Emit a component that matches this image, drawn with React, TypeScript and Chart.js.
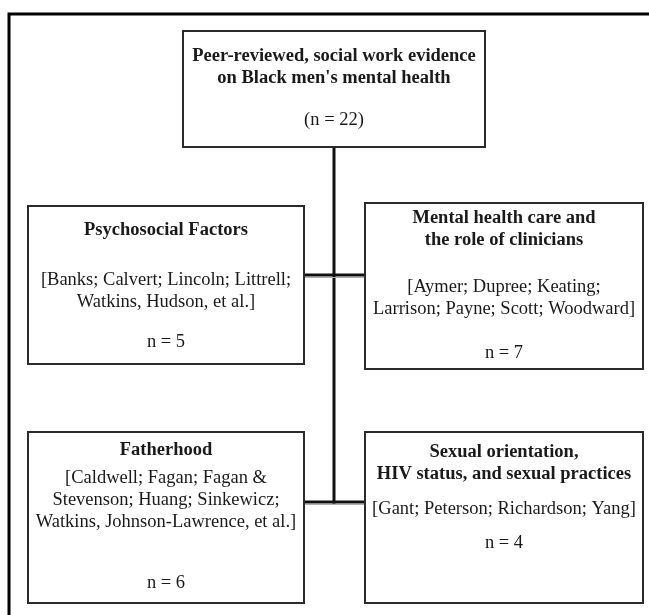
import React, { useEffect, useRef } from "react";
import { Chart, registerables } from "chart.js";

Chart.register(...registerables);

// ---- content ----
const nodeTitles: string[][] = [
  ["Peer-reviewed, social work evidence", "on Black men's mental health"],
  ["Psychosocial Factors"],
  ["Mental health care and", "the role of clinicians"],
  ["Fatherhood"],
  ["Sexual orientation,", "HIV status, and sexual practices"],
];
const nodeRefs: string[][] = [
  [],
  ["[Banks; Calvert; Lincoln; Littrell;", "Watkins, Hudson, et al.]"],
  ["[Aymer; Dupree; Keating;", "Larrison; Payne; Scott; Woodward]"],
  ["[Caldwell; Fagan; Fagan &", "Stevenson; Huang; Sinkewicz;", "Watkins, Johnson-Lawrence, et al.]"],
  ["[Gant; Peterson; Richardson; Yang]"],
];
const nodeCounts: string[] = ["(n = 22)", "n = 5", "n = 7", "n = 6", "n = 4"];

// ---- layout (diagram units = axis values) ----
const boxX0 = [183, 28, 365, 28, 365];
const boxX1 = [485, 304, 643, 304, 643];
const boxY0 = [31, 206, 203, 432, 432];
const boxY1 = [147, 364, 369, 603, 603];
const titleY = [56, 230, 218, 450, 452];
const refsY = [0, 280, 287, 478, 509];
const countY = [120, 342, 353, 583, 543];
const lineStep = 22;

const trunkX = 334;
const trunkY0 = 147;
const trunkY1 = 502;
const branchY = [275, 502];
const branchX0 = 304;
const branchX1 = 365;

const frameX0 = 9;
const frameY0 = 14;
const frameX1 = 660;
const frameY1 = 630;

const FONT = '"Liberation Serif", "Times New Roman", serif';
const FONT_SIZE = 18.5;

function rectPts(x0: number, y0: number, x1: number, y1: number) {
  return [
    { x: x0, y: y0 },
    { x: x1, y: y0 },
    { x: x1, y: y1 },
    { x: x0, y: y1 },
    { x: x0, y: y0 },
  ];
}

const textPlugin = {
  id: "flowText",
  afterDatasetsDraw(chart: any) {
    const { ctx, scales } = chart;
    const xs = scales.x;
    const ys = scales.y;
    ctx.save();
    ctx.fillStyle = "#1a1a1a";
    ctx.textAlign = "center";
    ctx.textBaseline = "middle";
    for (let i = 0; i < nodeTitles.length; i++) {
      const cx = xs.getPixelForValue((boxX0[i] + boxX1[i]) / 2);
      ctx.font = `bold ${FONT_SIZE}px ${FONT}`;
      nodeTitles[i].forEach((t, k) => {
        ctx.fillText(t, cx, ys.getPixelForValue(titleY[i] + k * lineStep));
      });
      ctx.font = `${FONT_SIZE}px ${FONT}`;
      nodeRefs[i].forEach((t, k) => {
        ctx.fillText(t, cx, ys.getPixelForValue(refsY[i] + k * lineStep));
      });
      ctx.fillText(nodeCounts[i], cx, ys.getPixelForValue(countY[i]));
    }
    ctx.restore();
  },
};

export default function App() {
  const ref = useRef<HTMLCanvasElement | null>(null);
  useEffect(() => {
    if (!ref.current) return;
    const base = {
      type: "line" as const,
      pointRadius: 0,
      fill: false,
      tension: 0,
      borderJoinStyle: "miter" as const,
      borderCapStyle: "square" as const,
    };
    const datasets: any[] = [];
    datasets.push({
      ...base,
      data: rectPts(frameX0, frameY0, frameX1, frameY1),
      borderColor: "#000",
      borderWidth: 3,
    });
    for (let i = 0; i < boxX0.length; i++) {
      datasets.push({
        ...base,
        data: rectPts(boxX0[i], boxY0[i], boxX1[i], boxY1[i]),
        borderColor: "#2b2b2b",
        borderWidth: 2,
      });
    }
    branchY.forEach((by) => {
      datasets.push({
        ...base,
        borderCapStyle: "butt",
        data: [
          { x: branchX0, y: by + 2.5 },
          { x: branchX1, y: by + 2.5 },
        ],
        borderColor: "#b0b0b0",
        borderWidth: 1,
      });
      datasets.push({
        ...base,
        borderCapStyle: "butt",
        data: [
          { x: branchX0, y: by },
          { x: branchX1, y: by },
        ],
        borderColor: "#111",
        borderWidth: 3,
      });
    });
    datasets.push({
      ...base,
      borderCapStyle: "butt",
      data: [
        { x: trunkX, y: trunkY0 },
        { x: trunkX, y: trunkY1 + 1.5 },
      ],
      borderColor: "#111",
      borderWidth: 3,
    });

    const chart = new Chart(ref.current, {
      type: "line",
      data: { datasets },
      options: {
        animation: false,
        responsive: false,
        devicePixelRatio: 1,
        layout: { padding: 0 },
        plugins: { legend: { display: false }, tooltip: { enabled: false } },
        scales: {
          x: { type: "linear", min: 0, max: 649, display: false },
          y: { type: "linear", min: 0, max: 615, reverse: true, display: false },
        },
      },
      plugins: [textPlugin],
    } as any);
    return () => chart.destroy();
  }, []);
  return (
    <div style={{ position: "absolute", left: 0, top: 0, width: 649, height: 615, background: "#fff" }}>
      <canvas ref={ref} width={649} height={615} style={{ display: "block" }} />
    </div>
  );
}
